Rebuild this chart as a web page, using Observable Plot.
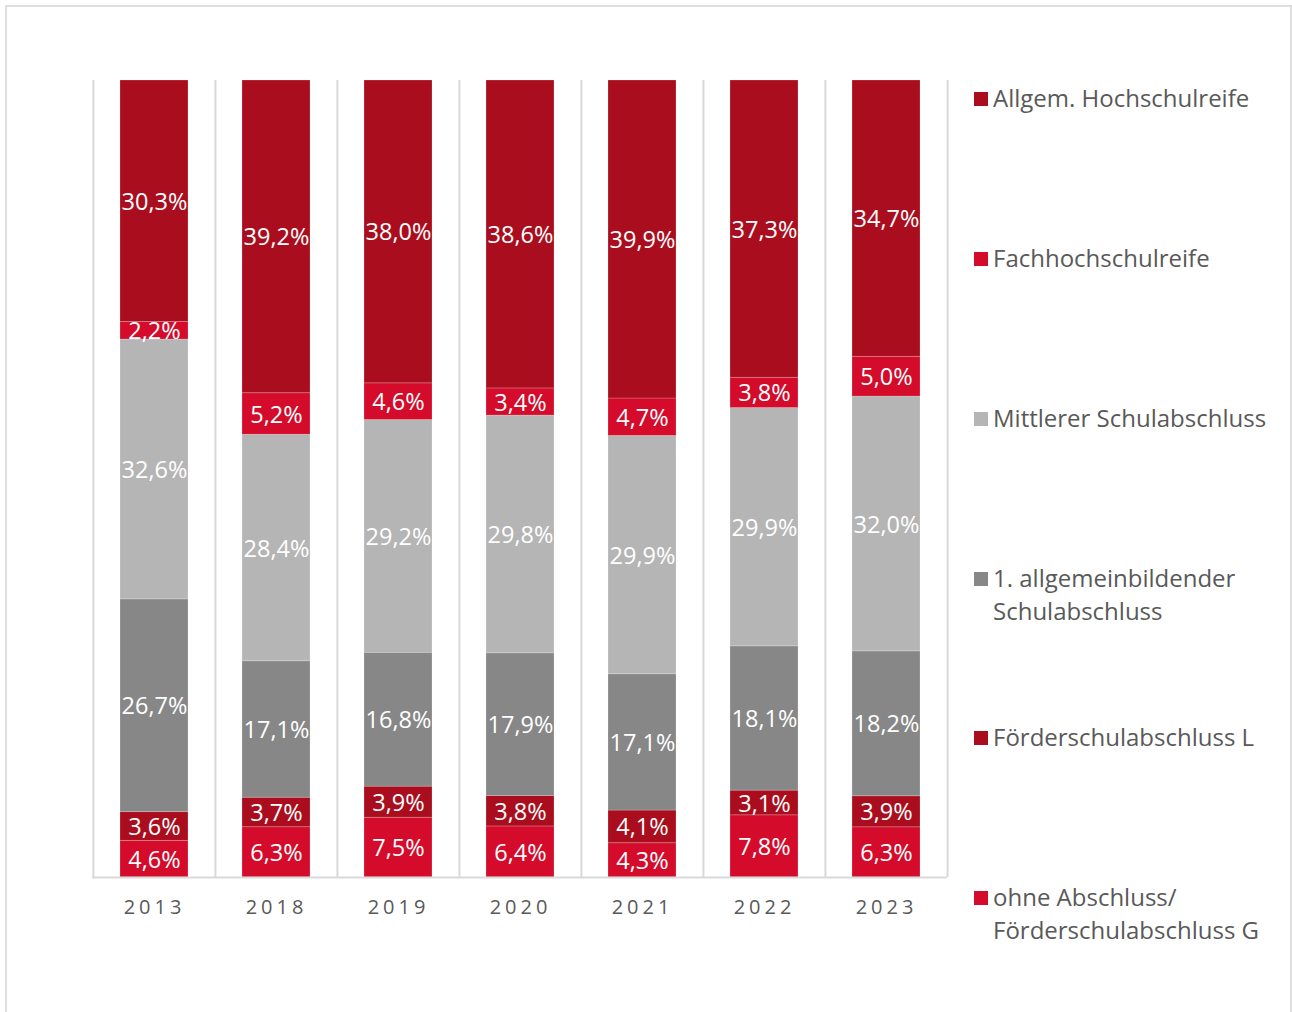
<!DOCTYPE html>
<html>
<head>
<meta charset="utf-8">
<script src="https://cdn.jsdelivr.net/npm/d3@7"></script>
<script src="https://cdn.jsdelivr.net/npm/@observablehq/plot@0.6"></script>
<style>
  html, body { margin: 0; padding: 0; background: #fff; overflow: hidden; }
  #wrap { position: relative; width: 1292px; height: 1012px; font-family: "Open Sans", sans-serif; }
  #frame { position: absolute; left: 5px; top: 5px; width: 1283px; height: 1100px; border: 2px solid #dedede; }
  #chart { position: absolute; left: 0; top: 0; }
  #chart svg { font-family: "Open Sans", sans-serif; }
  #chart g[aria-label="x-axis tick label"] text { letter-spacing: 4px; }
  #legend { position: absolute; left: 974px; top: 0; color: #595959; font-size: 24px; }
  .li { position: absolute; left: 0; white-space: nowrap; line-height: 33px; }
  .sw { position: absolute; left: 0; top: 11px; width: 14px; height: 14px; }
  .lt { position: absolute; left: 19px; top: 0; }
</style>
</head>
<body>
<div id="wrap">
  <div id="frame"></div>
  <div id="chart"></div>
  <div id="legend"></div>
</div>
<script>
// Categories (years)
const years = ["2013", "2018", "2019", "2020", "2021", "2022", "2023"];
// Series, bottom to top
const series = [
  "ohne Abschluss/ Förderschulabschluss G",
  "Förderschulabschluss L",
  "1. allgemeinbildender Schulabschluss",
  "Mittlerer Schulabschluss",
  "Fachhochschulreife",
  "Allgem. Hochschulreife"
];
const colors = ["#d40b2b", "#aa0e1e", "#878787", "#b5b5b5", "#d40b2b", "#aa0e1e"];
// Values in percent per series (same order as years)
const ohneAbschluss    = [4.6, 6.3, 7.5, 6.4, 4.3, 7.8, 6.3];
const foerderL         = [3.6, 3.7, 3.9, 3.8, 4.1, 3.1, 3.9];
const ersterAbschluss  = [26.7, 17.1, 16.8, 17.9, 17.1, 18.1, 18.2];
const mittlerer        = [32.6, 28.4, 29.2, 29.8, 29.9, 29.9, 32.0];
const fachhochschul    = [2.2, 5.2, 4.6, 3.4, 4.7, 3.8, 5.0];
const allgemHochschul  = [30.3, 39.2, 38.0, 38.6, 39.9, 37.3, 34.7];
const seriesValues = [ohneAbschluss, foerderL, ersterAbschluss, mittlerer, fachhochschul, allgemHochschul];
// Legend labels (with line breaks as in the reference)
const legendLines = [
  ["Allgem. Hochschulreife"],
  ["Fachhochschulreife"],
  ["Mittlerer Schulabschluss"],
  ["1. allgemeinbildender", "Schulabschluss"],
  ["Förderschulabschluss L"],
  ["ohne Abschluss/", "Förderschulabschluss G"]
];
const legendSeries = [5, 4, 3, 2, 1, 0];

const data = [];
seriesValues.forEach((vals, si) => {
  vals.forEach((v, yi) => data.push({year: years[yi], series: series[si], value: v}));
});
const fmt = v => v.toFixed(1).replace(".", ",") + "%";

const W = 1292, H = 1012, mL = 92, mR = 345, mT = 80, mB = 135;
const step = (W - mL - mR) / years.length;
const padIn = 0.443;

const stackOpts = {x: "year", y: "value", z: "series", order: series, offset: "normalize"};

const chart = Plot.plot({
  width: W,
  height: H,
  marginLeft: mL,
  marginRight: mR,
  marginTop: mT,
  marginBottom: mB,
  x: {domain: years, paddingInner: padIn, paddingOuter: padIn / 2, label: null, tickSize: 0, tickPadding: 22},
  y: {domain: [0, 1], axis: null},
  color: {domain: series, range: colors},
  style: {fontFamily: "Open Sans, sans-serif", fontSize: "20px", color: "#595959", background: "transparent", overflow: "visible"},
  marks: [
    Plot.ruleX(years, {x: d => d, y1: 0, y2: 1, stroke: "#d9d9d9", strokeWidth: 2, dx: -step / 2}),
    Plot.ruleX([years[years.length - 1]], {x: d => d, y1: 0, y2: 1, stroke: "#d9d9d9", strokeWidth: 2, dx: step / 2}),
    Plot.barY(data, Plot.stackY({...stackOpts, fill: "series", stroke: "#ffffff", strokeOpacity: 0.25, strokeWidth: 0.8})),
    Plot.text(data, Plot.stackY({...stackOpts, text: d => fmt(d.value), fill: "#ffffff", fontSize: 23.5, dy: 1})),
    Plot.ruleY([0], {stroke: "#d9d9d9", strokeWidth: 2})
  ]
});
document.getElementById("chart").appendChild(chart);

// Legend
const legend = document.getElementById("legend");
const legendTops = [81, 241, 401, 561, 720, 880];
legendSeries.forEach((si, i) => {
  const item = document.createElement("div");
  item.className = "li";
  item.style.top = legendTops[i] + "px";
  const sw = document.createElement("div");
  sw.className = "sw";
  sw.style.background = colors[si];
  const t = document.createElement("div");
  t.className = "lt";
  t.innerHTML = legendLines[i].join("<br>");
  item.appendChild(sw);
  item.appendChild(t);
  legend.appendChild(item);
});
</script>
</body>
</html>
